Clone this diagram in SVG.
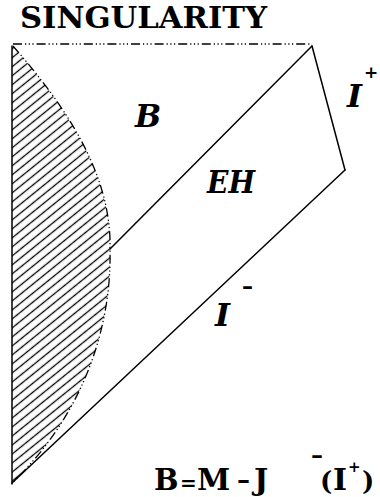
<svg xmlns="http://www.w3.org/2000/svg" width="380" height="497" viewBox="0 0 380 497">
  <style>
    .ln { stroke: #000; stroke-width: 1.5; fill: none; stroke-linecap: round; }
    .dd { stroke: #000; stroke-width: 1.3; fill: none; stroke-dasharray: 9 3 1.2 2.5 1.2 2.5 1.2 3; }
    text { font-weight: bold; fill: #000; }
    .it { font-style: italic; }
  </style>
  <defs>
    <pattern id="hatch" patternUnits="userSpaceOnUse" width="12" height="7" patternTransform="rotate(-39)">
      <line x1="-2" y1="3.5" x2="14" y2="3.5" stroke="#000" stroke-width="1.3"/>
    </pattern>
    <clipPath id="hclip">
      <path d="M12,46 L13,46 C60,100 112,170 110,249 C112,335 78,420 12,483 Z"/>
    </clipPath>
  </defs>

  <g id="title" font-family="DejaVu Serif, serif">
    <text x="20" y="28" font-size="30" textLength="247" lengthAdjust="spacingAndGlyphs">SINGULARITY</text>
  </g>

  <g id="hatched-region">
    <rect x="12" y="44" width="110" height="442" fill="url(#hatch)" clip-path="url(#hclip)"/>
    <path class="dd" d="M13,46 C60,100 112,170 110,249 C112,335 78,420 12,483"/>
  </g>

  <g id="connectors">
    <line class="dd" x1="13" y1="44" x2="312" y2="44"/>
    <line class="ln" x1="12" y1="46" x2="12" y2="484" stroke-width="2"/>
    <line class="ln" x1="312" y1="46" x2="345" y2="170"/>
    <line class="ln" x1="345" y1="170" x2="12" y2="483"/>
    <line class="ln" x1="312" y1="46" x2="110" y2="249"/>
  </g>

  <g id="label-B" font-family="DejaVu Serif, serif">
    <text class="it" x="135" y="127" font-size="31">B</text>
  </g>
  <g id="label-EH" font-family="DejaVu Serif, serif">
    <text class="it" x="207" y="193" font-size="31" textLength="48" lengthAdjust="spacingAndGlyphs">EH</text>
  </g>
  <g id="label-Iplus" font-family="DejaVu Serif, serif">
    <text class="it" x="347" y="107" font-size="32">I<tspan x="364" y="78" font-size="17" font-style="normal">+</tspan></text>
  </g>
  <g id="label-Iminus" font-family="DejaVu Serif, serif">
    <text class="it" x="215" y="326" font-size="32">I<tspan x="242" y="294" font-size="22" font-style="normal">–</tspan></text>
  </g>
  <g id="formula" font-family="DejaVu Serif, serif">
    <text font-size="30"><tspan x="154" y="490" font-size="29">B</tspan><tspan x="180" y="490" font-size="20">=</tspan><tspan x="197" y="490">M</tspan><tspan x="237" y="488" font-size="26">–</tspan><tspan x="254" y="490">J</tspan><tspan x="311" y="463" font-size="24">–</tspan><tspan x="320" y="490" font-size="26">(</tspan><tspan x="333" y="490">I</tspan><tspan x="348" y="472" font-size="15">+</tspan><tspan x="362" y="490" font-size="26">)</tspan></text>
  </g>
</svg>
